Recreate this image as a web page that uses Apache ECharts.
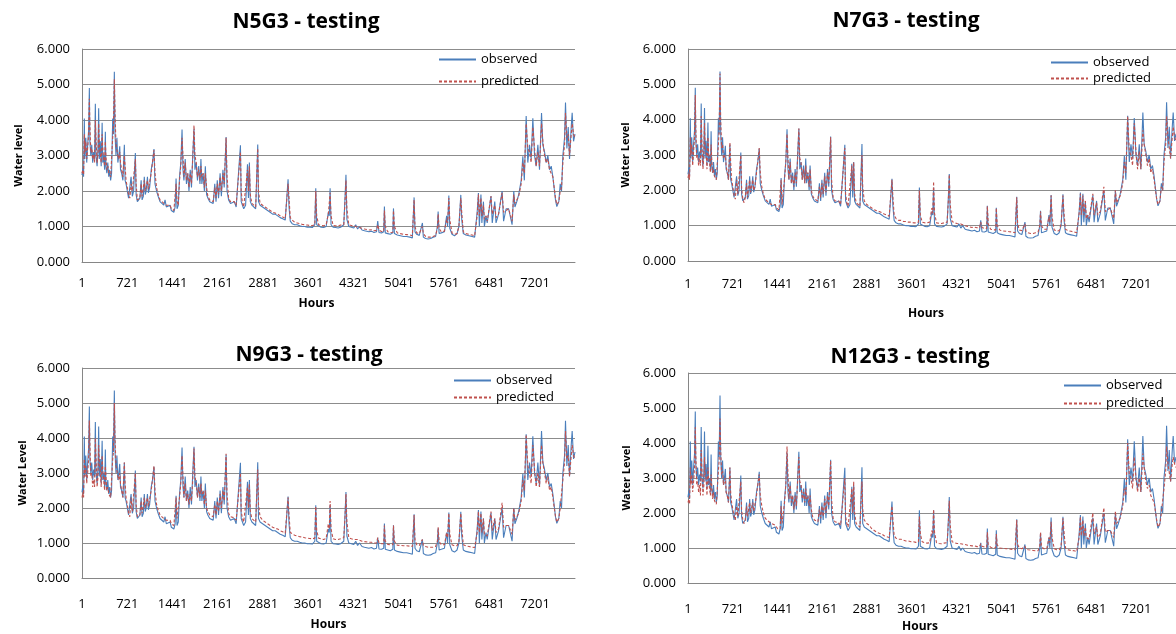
<!DOCTYPE html>
<html>
<head>
<meta charset="utf-8">
<title>Water level - testing</title>
<script src="https://cdn.jsdelivr.net/npm/echarts@6/dist/echarts.min.js"></script>
<style>
  html, body { margin: 0; padding: 0; background: #fff; }
  #chart { width: 1176px; height: 634px; }
</style>
</head>
<body>
<div id="chart"></div>
<script>
// hour offset from the first record (label shown is offset + 1)
var hours = [0,15,25,37,45,60,75,90,105,117,125,140,155,170,185,200,212,222,240,255,265,275,290,305,320,330,345,360,371,380,395,410,425,440,455,470,488,500,514,525,540,555,570,585,600,612,630,650,673,685,700,720,740,760,780,800,820,848,860,880,900,920,940,955,975,990,1005,1020,1040,1055,1075,1100,1120,1144,1160,1185,1210,1240,1270,1300,1320,1340,1370,1400,1420,1440,1460,1480,1495,1510,1530,1550,1570,1590,1605,1620,1640,1660,1680,1700,1720,1740,1760,1780,1795,1815,1835,1855,1875,1890,1905,1925,1945,1960,1980,2000,2030,2060,2085,2110,2130,2150,2170,2195,2215,2240,2260,2290,2305,2330,2360,2390,2420,2450,2480,2518,2530,2550,2570,2600,2630,2645,2660,2675,2700,2730,2760,2793,2805,2830,2870,2910,2950,2990,3030,3070,3110,3150,3190,3230,3260,3275,3290,3310,3340,3380,3420,3460,3500,3540,3580,3620,3660,3700,3715,3730,3760,3800,3840,3880,3915,3930,3943,3958,3990,4030,4070,4110,4160,4180,4195,4210,4240,4280,4320,4350,4380,4410,4450,4490,4520,4560,4600,4640,4680,4700,4720,4760,4795,4806,4820,4860,4900,4940,4950,4965,5010,5060,5110,5160,5210,5250,5265,5278,5292,5320,5360,5390,5410,5425,5460,5500,5540,5580,5620,5648,5660,5675,5710,5760,5795,5810,5830,5845,5880,5920,5960,5990,6020,6035,6060,6100,6150,6200,6240,6265,6280,6300,6315,6340,6355,6380,6395,6420,6440,6500,6520,6560,6580,6620,6677,6700,6740,6780,6835,6862,6880,6910,6940,6960,6980,7006,7030,7059,7085,7112,7138,7165,7192,7218,7245,7271,7303,7324,7351,7377,7404,7430,7457,7483,7525,7546,7578,7600,7621,7642,7669,7684,7706,7727,7748,7775,7790,7812,7835];

var observed = [2.45,2.65,2.4,4.04,2.9,3.5,2.8,3.3,3.7,4.9,3.4,3.0,3.3,2.8,3.1,2.9,4.46,3.0,2.7,3.2,4.33,2.9,3.4,2.7,3.92,2.8,3.0,2.6,3.67,2.7,2.5,2.8,2.4,2.6,2.3,2.5,4.04,3.6,5.36,3.6,3.0,3.5,2.8,3.0,3.26,2.6,2.5,2.3,3.3,2.3,2.2,2.0,1.8,1.75,2.4,1.85,2.0,3.07,1.9,1.7,1.65,1.8,2.3,1.75,1.85,2.4,1.9,2.0,2.4,1.95,2.1,2.6,2.8,3.18,2.2,2.0,1.85,1.7,1.65,1.6,1.75,1.55,1.5,1.6,1.45,1.5,1.4,1.55,2.35,1.5,1.6,2.4,2.8,3.73,2.6,2.3,2.9,2.2,2.5,2.0,2.6,2.1,3.0,3.75,2.6,2.8,2.3,2.7,2.2,2.9,2.2,2.5,2.0,2.7,1.9,1.8,1.7,1.75,1.65,2.2,1.7,2.3,1.8,2.5,1.85,2.6,2.1,3.52,2.0,1.75,1.65,1.6,1.7,1.55,1.5,3.29,1.7,1.6,1.5,1.6,2.75,1.8,2.8,1.7,1.6,1.55,1.5,3.31,1.7,1.6,1.55,1.5,1.45,1.4,1.35,1.35,1.3,1.25,1.22,1.18,1.2,2.33,1.55,1.15,1.08,1.05,1.05,1.02,1.0,1.0,0.98,0.98,0.97,1.05,2.08,1.05,1.0,0.98,0.97,1.0,1.4,1.3,2.08,1.05,0.98,0.97,0.96,0.98,1.05,1.8,2.46,1.2,1.0,0.98,0.96,1.05,0.93,1.0,0.9,0.88,0.9,0.85,0.87,0.83,0.85,1.15,0.83,0.82,0.85,1.56,0.82,0.8,0.78,0.82,1.51,0.8,0.76,0.74,0.72,0.72,0.7,0.68,0.72,1.82,0.85,0.78,0.75,0.72,1.1,0.7,0.66,0.65,0.66,0.7,0.72,1.0,1.42,0.8,0.82,0.85,1.3,1.0,1.87,0.95,0.78,0.74,0.8,1.0,1.89,1.2,0.8,0.76,0.74,0.72,0.7,0.68,1.4,1.94,1.0,1.9,1.1,1.7,1.0,1.3,1.1,1.86,1.1,1.7,1.1,1.35,2.0,1.15,1.5,1.5,1.05,2.0,1.55,1.7,1.9,1.9,2.3,2.98,2.3,4.11,2.8,3.3,2.9,4.05,3.0,2.7,3.3,2.6,4.2,3.3,3.1,2.8,3.0,2.6,2.7,2.4,1.75,1.56,1.7,2.2,2.0,3.0,3.5,4.49,3.2,3.8,2.9,3.8,4.2,3.4,3.6];

var predN5 = [2.5,2.6,2.45,3.6,3.1,3.4,2.9,3.2,3.6,4.6,3.9,3.1,3.2,2.9,3.0,2.8,4.0,3.5,2.8,3.1,3.9,3.3,3.3,2.8,3.6,3.2,2.9,2.7,3.4,3.0,2.6,2.7,2.5,2.5,2.4,2.4,3.5,3.8,5.15,4.2,3.3,3.3,3.0,2.9,3.1,2.8,2.6,2.4,3.0,2.7,2.3,2.1,1.9,1.8,2.2,2.0,1.95,2.9,2.2,1.75,1.7,1.8,2.2,1.85,1.9,2.3,2.0,2.0,2.3,2.05,2.1,2.5,2.8,3.15,2.5,2.1,1.9,1.75,1.7,1.65,1.7,1.6,1.55,1.6,1.5,1.5,1.45,1.5,2.2,1.7,1.6,2.3,2.7,3.5,3.0,2.4,2.8,2.3,2.5,2.1,2.5,2.2,2.9,3.85,3.0,2.8,2.4,2.6,2.3,2.7,2.4,2.5,2.1,2.5,2.1,1.85,1.75,1.75,1.7,2.1,1.8,2.2,1.9,2.4,2.0,2.5,2.2,3.5,2.4,1.8,1.7,1.65,1.7,1.6,1.55,3.1,2.0,1.65,1.55,1.6,2.6,2.0,2.7,1.9,1.65,1.6,1.55,3.2,2.0,1.65,1.6,1.55,1.5,1.45,1.4,1.38,1.35,1.3,1.27,1.23,1.22,2.2,1.8,1.25,1.18,1.12,1.1,1.08,1.06,1.05,1.04,1.03,1.03,1.05,2.0,1.3,1.05,1.03,1.02,1.05,1.35,1.3,1.95,1.3,1.03,1.02,1.02,1.04,1.05,1.7,2.3,1.5,1.05,1.03,1.02,1.05,0.98,1.02,0.95,0.93,0.94,0.9,0.91,0.88,0.89,1.05,0.9,0.86,0.86,1.45,1.0,0.85,0.83,0.84,1.45,1.0,0.82,0.8,0.78,0.77,0.76,0.74,0.75,1.75,1.0,0.82,0.8,0.78,1.0,0.8,0.72,0.7,0.7,0.72,0.75,0.95,1.35,0.95,0.85,0.87,1.2,1.1,1.8,1.2,0.82,0.78,0.8,1.0,1.8,1.4,0.85,0.8,0.78,0.76,0.74,0.72,1.3,1.9,1.3,1.8,1.3,1.6,1.2,1.3,1.15,1.85,1.35,1.6,1.25,1.35,1.95,1.4,1.45,1.5,1.15,1.9,1.65,1.7,1.85,1.9,2.2,2.8,2.5,3.9,3.2,3.1,2.8,3.8,3.2,2.7,3.1,2.7,3.9,3.4,3.0,2.8,2.9,2.6,2.6,2.4,1.8,1.62,1.7,2.0,2.1,2.8,3.3,4.2,3.5,3.6,3.0,3.6,3.9,3.6,3.5];

var predN7 = [2.35,2.5,2.3,3.5,3.0,3.3,2.7,3.1,3.5,4.7,3.8,2.9,3.0,2.7,2.9,2.7,4.1,3.4,2.6,3.0,3.9,3.2,3.1,2.6,3.5,3.1,2.8,2.5,3.3,2.9,2.5,2.6,2.4,2.4,2.3,2.3,3.3,3.7,5.3,4.0,3.2,3.3,2.9,2.9,3.0,2.7,2.5,2.3,3.35,2.8,2.3,2.1,1.85,1.75,2.3,1.9,1.95,3.0,2.1,1.75,1.65,1.8,2.2,1.8,1.85,2.3,1.95,2.0,2.3,2.0,2.1,2.5,2.8,3.2,2.5,2.1,1.9,1.75,1.7,1.65,1.7,1.6,1.55,1.6,1.5,1.5,1.45,1.5,2.3,1.6,1.6,2.3,2.8,3.6,2.9,2.3,2.8,2.2,2.4,2.1,2.5,2.2,2.9,3.75,2.9,2.8,2.3,2.6,2.2,2.7,2.3,2.5,2.1,2.6,2.0,1.85,1.75,1.75,1.7,2.1,1.8,2.2,1.9,2.4,1.95,2.5,2.2,3.5,2.3,1.8,1.7,1.65,1.7,1.6,1.55,3.2,1.9,1.65,1.55,1.6,2.7,2.0,2.8,1.9,1.65,1.6,1.55,3.0,2.1,1.7,1.6,1.55,1.5,1.45,1.42,1.4,1.37,1.33,1.3,1.27,1.25,2.3,1.8,1.3,1.2,1.15,1.15,1.12,1.12,1.1,1.1,1.08,1.08,1.1,2.0,1.3,1.1,1.08,1.08,1.1,1.5,1.35,2.25,1.35,1.08,1.07,1.06,1.08,1.1,1.7,2.45,1.6,1.12,1.08,1.06,1.08,1.05,1.06,1.0,0.98,1.0,0.95,0.96,0.94,0.94,1.1,0.95,0.92,0.92,1.55,1.05,0.9,0.88,0.88,1.5,1.0,0.87,0.85,0.84,0.83,0.82,0.8,0.8,1.8,1.05,0.88,0.86,0.84,1.05,0.85,0.8,0.78,0.78,0.8,0.82,1.0,1.4,1.0,0.9,0.9,1.25,1.1,1.85,1.25,0.88,0.85,0.86,1.05,1.85,1.4,0.9,0.86,0.84,0.82,0.8,0.8,1.35,1.9,1.3,1.85,1.3,1.7,1.2,1.3,1.2,1.9,1.3,1.65,1.3,1.4,2.1,1.4,1.45,1.5,1.2,2.0,1.65,1.7,1.85,1.9,2.2,2.8,2.5,4.1,3.1,3.0,2.7,3.9,3.1,2.6,3.1,2.6,3.7,3.3,3.0,2.7,2.9,2.5,2.6,2.3,1.75,1.6,1.7,2.1,2.0,2.8,3.3,4.1,3.5,3.5,2.9,3.5,3.8,3.5,3.4];

var predN9 = [2.3,2.45,2.3,3.4,2.9,3.2,2.7,3.0,3.4,4.5,3.9,2.9,3.0,2.6,2.8,2.6,4.0,3.5,2.6,2.9,3.8,3.3,3.1,2.6,3.5,3.1,2.8,2.5,3.2,2.9,2.5,2.6,2.4,2.4,2.3,2.3,3.4,3.6,5.0,4.0,3.2,3.2,2.9,2.8,3.0,2.7,2.5,2.3,3.3,2.7,2.3,2.1,1.85,1.75,2.3,1.9,1.95,3.0,2.1,1.75,1.7,1.8,2.2,1.85,1.9,2.3,2.0,2.0,2.3,2.05,2.1,2.5,2.8,3.2,2.5,2.1,1.95,1.8,1.75,1.7,1.75,1.65,1.6,1.65,1.55,1.55,1.5,1.55,2.3,1.7,1.65,2.3,2.7,3.5,2.9,2.3,2.7,2.2,2.4,2.1,2.4,2.2,2.8,3.7,2.9,2.7,2.3,2.6,2.3,2.7,2.4,2.5,2.1,2.5,2.0,1.9,1.8,1.8,1.75,2.1,1.8,2.2,1.9,2.4,2.0,2.5,2.2,3.55,2.4,1.85,1.75,1.7,1.72,1.65,1.6,3.0,1.9,1.7,1.6,1.62,2.6,2.0,2.7,1.9,1.7,1.65,1.6,3.1,2.1,1.75,1.65,1.6,1.55,1.5,1.45,1.42,1.4,1.35,1.32,1.28,1.27,2.3,1.8,1.3,1.25,1.22,1.2,1.18,1.17,1.15,1.14,1.13,1.12,1.14,2.05,1.35,1.14,1.12,1.1,1.13,1.55,1.4,2.2,1.4,1.12,1.1,1.1,1.12,1.15,1.75,2.4,1.6,1.15,1.12,1.1,1.12,1.1,1.1,1.05,1.04,1.05,1.02,1.02,1.0,1.0,1.15,1.0,0.98,0.98,1.5,1.05,0.96,0.95,0.95,1.5,1.05,0.94,0.93,0.92,0.92,0.91,0.9,0.9,1.8,1.1,0.95,0.93,0.92,1.1,0.93,0.9,0.88,0.88,0.88,0.9,1.05,1.45,1.05,0.95,0.95,1.3,1.15,1.85,1.25,0.95,0.92,0.92,1.05,1.85,1.45,0.95,0.92,0.9,0.88,0.87,0.86,1.3,1.9,1.3,1.85,1.3,1.7,1.25,1.3,1.2,1.9,1.35,1.7,1.3,1.4,2.15,1.45,1.5,1.5,1.25,2.0,1.65,1.7,1.85,1.9,2.2,2.8,2.5,4.1,3.2,3.0,2.7,3.8,3.1,2.6,3.0,2.6,3.8,3.3,3.0,2.7,2.9,2.5,2.6,2.3,1.75,1.6,1.7,2.0,2.0,2.8,3.3,4.2,3.4,3.5,2.9,3.5,3.8,3.5,3.4];

var predN12 = [2.3,2.4,2.25,3.3,2.8,3.1,2.6,2.9,3.3,4.45,3.7,2.8,2.9,2.6,2.8,2.5,3.8,3.3,2.5,2.8,3.6,3.1,3.0,2.5,3.3,3.0,2.7,2.5,3.1,2.8,2.4,2.6,2.35,2.4,2.25,2.3,3.2,3.5,4.7,3.8,3.1,3.2,2.8,2.8,3.0,2.6,2.5,2.3,3.3,2.6,2.3,2.1,1.9,1.8,2.2,1.9,1.95,2.9,2.1,1.8,1.7,1.8,2.2,1.9,1.9,2.3,2.0,2.0,2.3,2.05,2.1,2.5,2.8,3.1,2.5,2.2,2.0,1.85,1.8,1.75,1.75,1.7,1.65,1.65,1.6,1.55,1.5,1.55,2.2,1.7,1.65,2.3,2.8,3.9,3.1,2.4,2.8,2.3,2.5,2.1,2.5,2.2,2.9,3.6,2.9,2.8,2.4,2.6,2.3,2.7,2.4,2.5,2.2,2.5,2.1,1.9,1.8,1.8,1.75,2.1,1.85,2.2,1.9,2.4,2.0,2.5,2.2,3.5,2.4,1.85,1.75,1.7,1.72,1.65,1.6,3.0,1.9,1.7,1.6,1.65,2.7,2.0,2.9,2.0,1.7,1.65,1.6,2.9,2.1,1.8,1.7,1.65,1.55,1.5,1.45,1.42,1.4,1.35,1.32,1.3,1.28,2.2,1.8,1.35,1.28,1.25,1.25,1.22,1.2,1.2,1.18,1.18,1.16,1.18,1.9,1.4,1.18,1.15,1.14,1.15,1.5,1.4,2.1,1.45,1.15,1.13,1.12,1.14,1.15,1.7,2.35,1.65,1.18,1.15,1.13,1.13,1.12,1.12,1.1,1.08,1.08,1.06,1.06,1.04,1.04,1.12,1.05,1.03,1.02,1.45,1.1,1.02,1.01,1.0,1.4,1.08,1.0,0.99,0.98,0.97,0.96,0.95,0.95,1.8,1.1,1.0,0.98,0.97,1.05,0.97,0.95,0.94,0.93,0.92,0.92,1.05,1.45,1.05,0.98,0.98,1.3,1.15,1.75,1.3,0.98,0.95,0.95,1.05,1.85,1.5,1.0,0.95,0.93,0.92,0.9,0.9,1.3,1.9,1.35,1.8,1.35,1.6,1.3,1.3,1.25,2.0,1.4,1.6,1.3,1.4,2.15,1.45,1.5,1.5,1.3,2.05,1.7,1.7,1.85,1.9,2.2,2.7,2.5,4.0,3.1,3.0,2.7,3.6,3.0,2.6,3.0,2.6,3.7,3.3,2.9,2.7,2.8,2.5,2.5,2.3,1.8,1.6,1.7,2.0,2.0,2.7,3.2,3.9,3.4,3.4,2.9,3.4,3.6,3.4,3.3];

var seriesNames = ['observed', 'predicted'];
var xTickStep = 720;
var xLast = 7835;

var panels = [
  { title: 'N5G3 - testing', yName: 'Water level', pred: predN5,
    grid: { left: 82, top: 49, width: 493, height: 213 },
    titlePos: [306, 12], legend: { left: 438, top: 53, itemGap: 9 },
    xNameGap: 36, xNamePad: 24, yNameGap: 58, labelMargin: 15 },
  { title: 'N7G3 - testing', yName: 'Water Level', pred: predN7,
    grid: { left: 688, top: 49, width: 493, height: 212 },
    titlePos: [906, 11], legend: { left: 1050, top: 56, itemGap: 3 },
    xNameGap: 47, xNamePad: 12, yNameGap: 57, labelMargin: 17 },
  { title: 'N9G3 - testing', yName: 'Water Level', pred: predN9,
    grid: { left: 82, top: 368, width: 493, height: 210 },
    titlePos: [309, 345], legend: { left: 453, top: 374, itemGap: 4 },
    xNameGap: 41, xNamePad: 0, yNameGap: 54, labelMargin: 20 },
  { title: 'N12G3 - testing', yName: 'Water Level', pred: predN12,
    grid: { left: 688, top: 373, width: 493, height: 214 },
    titlePos: [910, 347], legend: { left: 1063, top: 379, itemGap: 5 },
    xNameGap: 38, xNamePad: 24, yNameGap: 56, labelMargin: 20 }
];

var font = '"Open Sans", "Liberation Sans", sans-serif';

function pairs(vals) {
  return hours.map(function (h, i) { return [h, vals[i]]; });
}

var option = {
  animation: false,
  backgroundColor: '#fff',
  textStyle: { fontFamily: font },
  title: [], legend: [], grid: [], xAxis: [], yAxis: [], series: []
};

panels.forEach(function (p, i) {
  option.title.push({
    text: p.title, left: p.titlePos[0], top: p.titlePos[1], textAlign: 'center', padding: 0,
    textStyle: { fontFamily: font, fontSize: 21, fontWeight: 'bold', color: '#000' }
  });
  // line-only legend keys: the marker dot is hidden, the line keeps the series style
  option.legend.push({
    data: seriesNames, orient: 'vertical', left: p.legend.left, top: p.legend.top,
    itemGap: p.legend.itemGap, itemWidth: 37, itemHeight: 14, padding: 0,
    itemStyle: { opacity: 0 },
    textStyle: { fontFamily: font, fontSize: 13, color: '#000' }
  });
  option.grid.push(Object.assign({ containLabel: false }, p.grid));
  option.xAxis.push({
    type: 'value', gridIndex: i, min: 0, max: xLast, interval: xTickStep,
    name: 'Hours', nameLocation: 'middle', nameGap: p.xNameGap,
    nameTextStyle: { fontFamily: font, fontSize: 12, fontWeight: 'bold', color: '#000', padding: [0, p.xNamePad, 0, 0] },
    axisLine: { lineStyle: { color: '#868686', width: 1 } },
    axisTick: { show: false },
    splitLine: { show: false },
    axisLabel: {
      showMaxLabel: false, margin: p.labelMargin, fontSize: 13, color: '#000', fontFamily: font,
      formatter: function (v) { return v % xTickStep === 0 ? String(v + 1) : ''; }
    }
  });
  option.yAxis.push({
    type: 'value', gridIndex: i, min: 0, max: 6, interval: 1,
    name: p.yName, nameLocation: 'middle', nameGap: p.yNameGap, nameRotate: 90,
    nameTextStyle: { fontFamily: font, fontSize: 11, fontWeight: 'bold', color: '#000' },
    axisLine: { show: true, lineStyle: { color: '#868686', width: 1 } },
    axisTick: { show: false },
    splitLine: { lineStyle: { color: '#8c8c8c', width: 1 } },
    axisLabel: {
      margin: 12, fontSize: 13, color: '#000', fontFamily: font,
      formatter: function (v) { return v.toFixed(3); }
    }
  });
  option.series.push({
    name: 'observed', type: 'line', xAxisIndex: i, yAxisIndex: i,
    data: pairs(observed), symbol: 'none',
    lineStyle: { color: '#4a7ebb', width: 1.1 }, itemStyle: { color: '#4a7ebb' }
  });
  option.series.push({
    name: 'predicted', type: 'line', xAxisIndex: i, yAxisIndex: i,
    data: pairs(p.pred), symbol: 'none',
    lineStyle: { color: '#c0504d', width: 1.1, type: [3, 2] }, itemStyle: { color: '#c0504d' }
  });
});

var chart = echarts.init(document.getElementById('chart'));
chart.setOption(option);
</script>
</body>
</html>
